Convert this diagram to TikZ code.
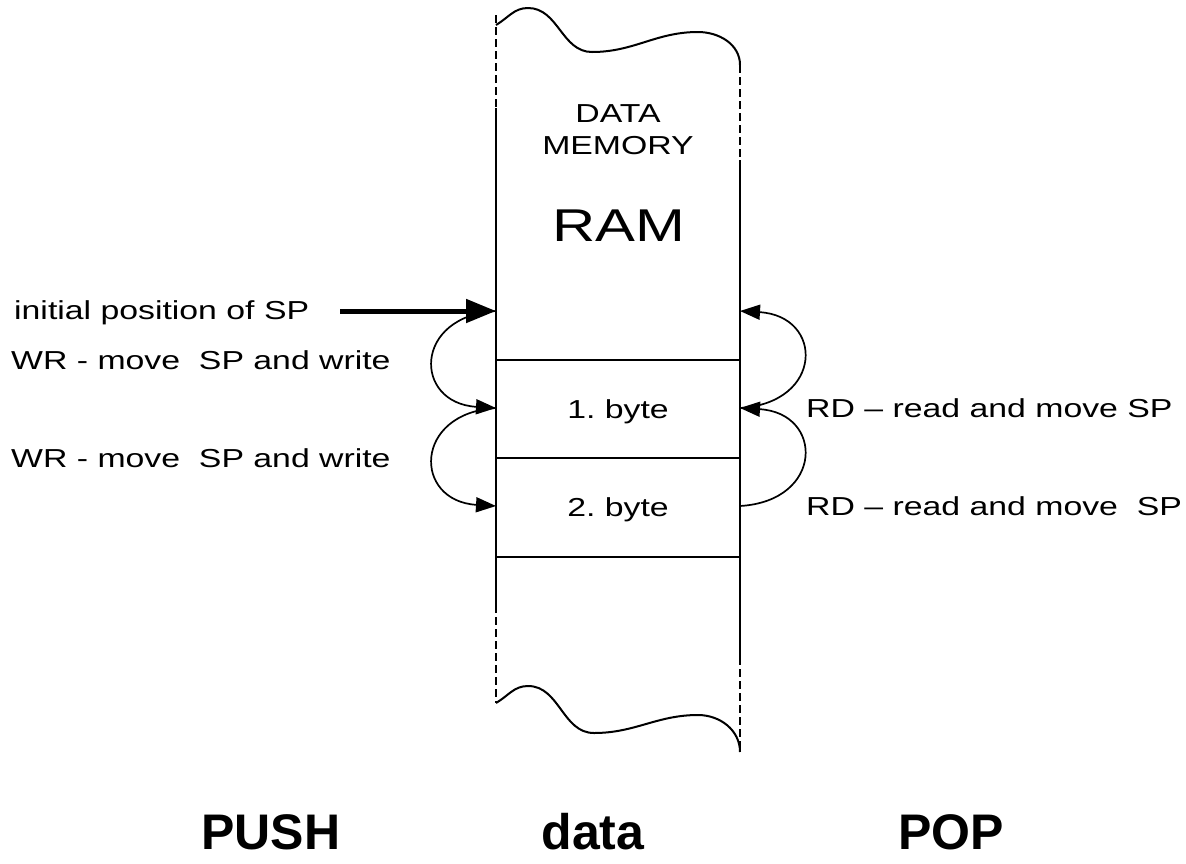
\documentclass[tikz,border=0pt]{standalone}
\usepackage{fontspec}
\setmainfont{Liberation Sans}
\newfontfamily\widefont[FakeStretch=1.3]{Liberation Sans}
\newfontfamily\headfont{Liberation Sans}
\usetikzlibrary{arrows.meta}

\begin{document}
\frenchspacing
\begin{tikzpicture}[x=1pt,y=1pt,
  wall/.style={line width=2pt},
  brk/.style={line width=2pt, dash pattern=on 7.5pt off 4.5pt},
  cut/.style={line width=2pt},
  hop/.style={line width=1.7pt, -{Triangle[length=20pt,width=15pt]}},
  push/.style={line width=5pt, -{Triangle[length=30pt,width=23pt]}},
  lbl/.style={font=\widefont\fontsize{26}{30}\selectfont, inner sep=0pt},
  ram/.style={font=\widefont\fontsize{46}{50}\selectfont, inner sep=0pt},
  title/.style={font=\headfont\bfseries\fontsize{50}{56}\selectfont,
    inner sep=0pt, text depth=0pt}]
\useasboundingbox (0,0) rectangle (1186,-863);

% memory strip: walls, broken ends
\draw[brk] (496,-15) -- (496,-108);
\draw[wall] (496,-108) -- (496,-605);
\draw[brk] (496,-605) -- (496,-703);
\draw[brk] (740,-65) -- (740,-160);
\draw[wall] (740,-160) -- (740,-657);
\draw[brk] (740,-657) -- (740,-752);

% torn edges
\draw[cut] (496,-25) to[out=30,in=180] (528,-8)
  to[out=0,in=180] (592,-52)
  to[out=0,in=180] (698,-32)
  to[out=0,in=90] (740,-65);
\draw[cut] (496,-703) to[out=30,in=180] (528,-686)
  to[out=0,in=180] (594,-733)
  to[out=0,in=180] (698,-715)
  to[out=0,in=90] (740,-752);

% cell borders
\draw[wall] (496,-360) -- (740,-360);
\draw[wall] (496,-458) -- (740,-458);
\draw[wall] (496,-557) -- (740,-557);

% stack pointer positions on the walls
\coordinate (L0) at (496,-311);
\coordinate (L1) at (496,-408);
\coordinate (L2) at (496,-506);
\coordinate (R0) at (740,-311);
\coordinate (R1) at (740,-408);
\coordinate (R2) at (740,-506);

% texts
\node[lbl, anchor=base] (data) at (618,-122) {DATA};
\node[lbl, anchor=base] (mem) at (618,-154) {MEMORY};
\node[ram, anchor=base] (ramtxt) at (619,-241) {RAM};
\node[lbl, anchor=base] (b1) at (618,-418) {1. byte};
\node[lbl, anchor=base] (b2) at (618,-516) {2. byte};

\node[lbl, anchor=base west] (init) at (14,-319) {initial position of SP};
\node[lbl, anchor=base west] (wr1) at (11,-369) {WR - move\ \ SP and write};
\node[lbl, anchor=base west] (wr2) at (11,-467) {WR - move\ \ SP and write};
\node[lbl, anchor=base west] (rd1) at (806,-417) {RD – read and move SP};
\node[lbl, anchor=base west] (rd2) at (806,-515) {RD – read and move\ \ SP};

\node[title, anchor=base] (push) at (271,-849) {PUSH};
\node[title, anchor=base] (dat) at (593,-849) {data};
\node[title, anchor=base] (pop) at (951,-849) {POP};

% connectors
\coordinate (A0) at (340,-311);
\draw[push] (A0) -- (L0);
\draw[hop] (L0) .. controls (413,-316) and (413,-403) .. (L1);
\draw[hop] (L1) .. controls (413,-413) and (413,-501) .. (L2);
\draw[hop] (R1) .. controls (824,-403) and (824,-316) .. (R0);
\draw[hop] (R2) .. controls (824,-501) and (824,-413) .. (R1);
\end{tikzpicture}
\end{document}
